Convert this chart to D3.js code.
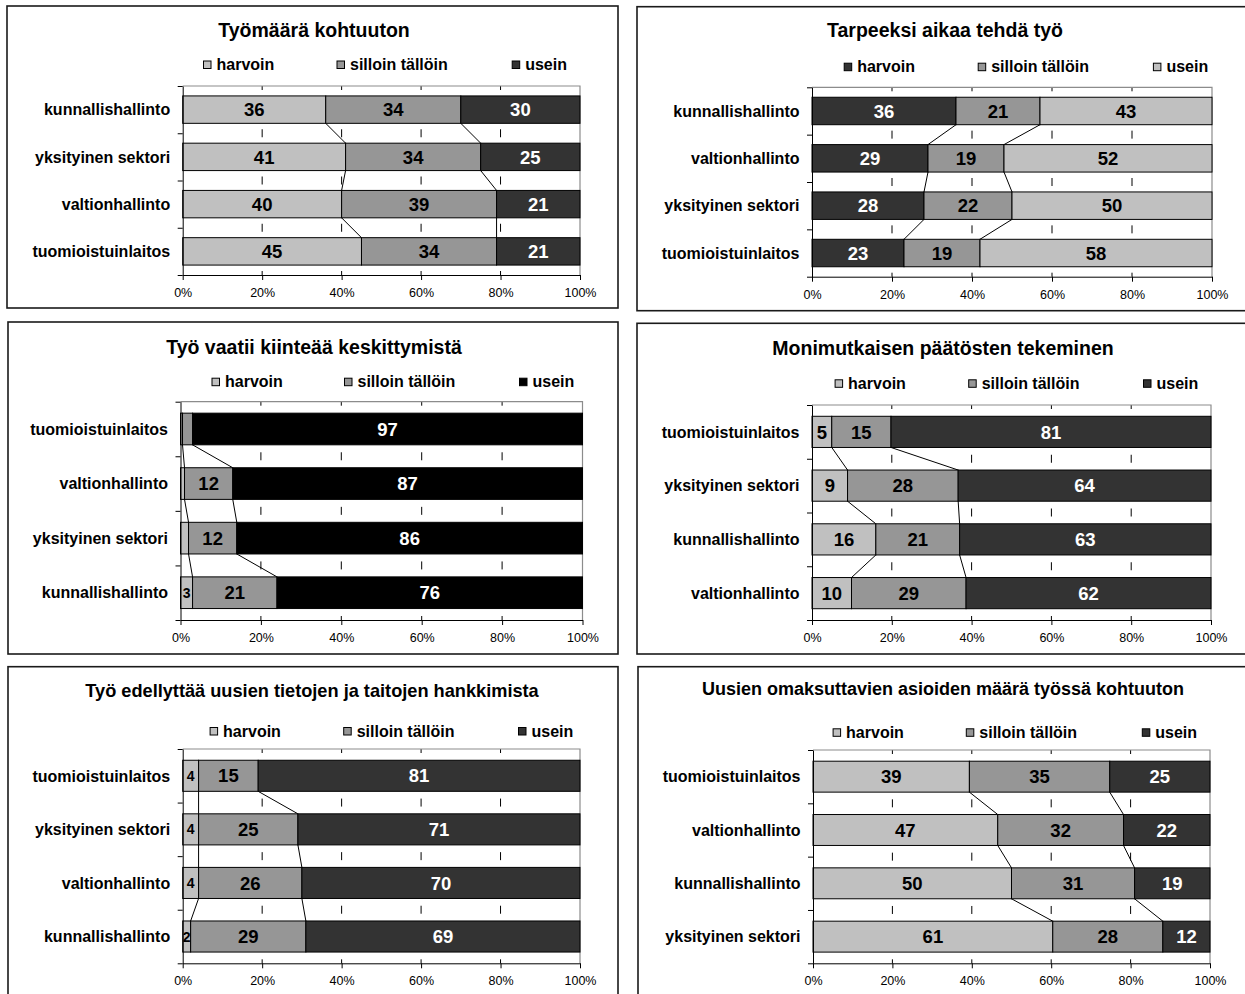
<!DOCTYPE html>
<html>
<head>
<meta charset="utf-8">
<script src="https://cdn.jsdelivr.net/npm/d3@7"></script>
<style>
  body { margin: 0; background: #fff; }
  svg { display: block; }
  text { font-family: "Liberation Sans", Arial, sans-serif; fill: #000; }
</style>
</head>
<body>
<svg id="chart" width="1245" height="994"></svg>
<script>
// ---- data ----
const seriesNames = ["harvoin", "silloin tällöin", "usein"];
const percentTicks = [0, 20, 40, 60, 80, 100];

const workloadTitle = "Työmäärä kohtuuton";
const workloadCats = ["kunnallishallinto", "yksityinen sektori", "valtionhallinto", "tuomioistuinlaitos"];
const workloadValues = [[36, 34, 30], [41, 34, 25], [40, 39, 21], [45, 34, 21]];

const timeTitle = "Tarpeeksi aikaa tehdä työ";
const timeCats = ["kunnallishallinto", "valtionhallinto", "yksityinen sektori", "tuomioistuinlaitos"];
const timeValues = [[36, 21, 43], [29, 19, 52], [28, 22, 50], [23, 19, 58]];

const focusTitle = "Työ vaatii kiinteää keskittymistä";
const focusCats = ["tuomioistuinlaitos", "valtionhallinto", "yksityinen sektori", "kunnallishallinto"];
const focusValues = [[0.5, 2.5, 97], [1, 12, 87], [2, 12, 86], [3, 21, 76]];
const focusUnlabeled = [[0, 0], [0, 1], [1, 0], [2, 0]]; // [row, series] without a value label

const decisionTitle = "Monimutkaisen päätösten tekeminen";
const decisionCats = ["tuomioistuinlaitos", "yksityinen sektori", "kunnallishallinto", "valtionhallinto"];
const decisionValues = [[5, 15, 81], [9, 28, 64], [16, 21, 63], [10, 29, 62]];

const learningTitle = "Työ edellyttää uusien tietojen ja taitojen hankkimista";
const learningCats = ["tuomioistuinlaitos", "yksityinen sektori", "valtionhallinto", "kunnallishallinto"];
const learningValues = [[4, 15, 81], [4, 25, 71], [4, 26, 70], [2, 29, 69]];

const newTasksTitle = "Uusien omaksuttavien asioiden määrä työssä kohtuuton";
const newTasksCats = ["tuomioistuinlaitos", "valtionhallinto", "kunnallishallinto", "yksityinen sektori"];
const newTasksValues = [[39, 35, 25], [47, 32, 22], [50, 31, 19], [61, 28, 12]];

// ---- styles ----
const LIGHT = "#c0c0c0", MID = "#969696", DARK = "#333333", BLACK = "#000000";

// ---- layout of the six panels ----
const panels = [
  { title: workloadTitle, cats: workloadCats, values: workloadValues, unlabeled: [],
    colors: [LIGHT, MID, DARK], frame: [7, 6, 611, 302], plot: [182.7, 86, 580, 275],
    titleX: 314, titleY: 30, titleSize: 19.5, legendY: 64.5, legendX: [203, 336.5, 511.7] },
  { title: timeTitle, cats: timeCats, values: timeValues, unlabeled: [],
    colors: [DARK, MID, LIGHT], frame: [637, 6.7, 620, 304], plot: [812, 87.3, 1212, 276.7],
    titleX: 945, titleY: 30, titleSize: 19.5, legendY: 66.7, legendX: [843.7, 977.7, 1152.9] },
  { title: focusTitle, cats: focusCats, values: focusValues, unlabeled: focusUnlabeled,
    colors: [LIGHT, MID, BLACK], frame: [8, 322, 610, 332], plot: [180.5, 401.7, 582.5, 620],
    titleX: 314, titleY: 346.7, titleSize: 19.5, legendY: 381.7, legendX: [211.5, 344, 519] },
  { title: decisionTitle, cats: decisionCats, values: decisionValues, unlabeled: [],
    colors: [LIGHT, MID, DARK], frame: [637, 323.3, 620, 330.7], plot: [812, 405, 1211, 620],
    titleX: 943, titleY: 348.3, titleSize: 19.5, legendY: 383.3, legendX: [834.6, 968.2, 1143] },
  { title: learningTitle, cats: learningCats, values: learningValues, unlabeled: [],
    colors: [LIGHT, MID, DARK], frame: [8, 666.7, 610, 340], plot: [182.7, 749, 580, 963.3],
    titleX: 312, titleY: 690, titleSize: 18.2, legendY: 731, legendX: [209.6, 343.2, 518] },
  { title: newTasksTitle, cats: newTasksCats, values: newTasksValues, unlabeled: [],
    colors: [LIGHT, MID, DARK], frame: [638, 666.7, 620, 340], plot: [813, 750, 1210, 963.3],
    titleX: 943, titleY: 688.3, titleSize: 18, legendY: 732.3, legendX: [832.6, 965.8, 1141.8] }
];

const svg = d3.select("#chart");

function drawPanel(p) {
  const g = svg.append("g");
  const [fx, fy, fw, fh] = p.frame;
  const [x0, y0, x1, y1] = p.plot;

  // frame
  g.append("rect").attr("x", fx).attr("y", fy).attr("width", fw).attr("height", fh)
    .attr("fill", "#fff").attr("stroke", "#1a1a1a").attr("stroke-width", 1.6);

  // title
  g.append("text").attr("x", p.titleX).attr("y", p.titleY).attr("dy", "0.36em")
    .attr("text-anchor", "middle").attr("font-weight", "bold").attr("font-size", p.titleSize)
    .text(p.title);

  // legend
  seriesNames.forEach((name, k) => {
    const lx = p.legendX[k];
    g.append("rect").attr("x", lx + 0.5).attr("y", p.legendY - 3.5).attr("width", 7.5).attr("height", 7.5)
      .attr("fill", p.colors[k]).attr("stroke", "#000").attr("stroke-width", 1);
    g.append("text").attr("x", lx + 13.5).attr("y", p.legendY).attr("dy", "0.36em")
      .attr("font-weight", "bold").attr("font-size", 16).text(name);
  });

  // scales
  const x = d3.scaleLinear().domain([0, 1]).range([x0, x1]);
  const y = d3.scaleBand().domain(p.cats).range([y0, y1]).paddingInner(0.42).paddingOuter(0.21);
  const yEdge = d3.scaleLinear().domain([0, p.cats.length]).range([y0, y1]);

  const stacked = d3.stack().keys(d3.range(seriesNames.length))
    .value((d, k) => d[k]).offset(d3.stackOffsetExpand)(p.values);

  // dashed gridlines: one dash centred in every gap between bars
  const dash = 8, period = y.step() / 2;
  g.append("g").selectAll("line").data(percentTicks.filter(t => t > 0 && t < 100)).join("line")
    .attr("x1", d => x(d / 100)).attr("x2", d => x(d / 100))
    .attr("y1", y0).attr("y2", y1)
    .attr("stroke", "#000").attr("stroke-width", 1)
    .attr("stroke-dasharray", `${dash},${period - dash}`)
    .attr("stroke-dashoffset", dash / 2);

  // plot area border (top and right)
  g.append("path").attr("d", `M${x0},${y0}H${x1}V${y1}`)
    .attr("fill", "none").attr("stroke", "#8c8c8c").attr("stroke-width", 1.2);

  // series lines between adjacent bars
  const seriesLines = [];
  for (let k = 0; k < seriesNames.length - 1; k++) {
    for (let i = 0; i < p.cats.length - 1; i++) {
      seriesLines.push({
        xa: x(stacked[k][i][1]), ya: y(p.cats[i]) + y.bandwidth(),
        xb: x(stacked[k][i + 1][1]), yb: y(p.cats[i + 1])
      });
    }
  }
  g.append("g").selectAll("line").data(seriesLines).join("line")
    .attr("x1", d => d.xa).attr("y1", d => d.ya).attr("x2", d => d.xb).attr("y2", d => d.yb)
    .attr("stroke", "#000").attr("stroke-width", 1);

  // bars
  stacked.forEach((layer, k) => {
    g.append("g").selectAll("rect").data(layer).join("rect")
      .attr("x", d => x(d[0])).attr("width", d => x(d[1]) - x(d[0]))
      .attr("y", (d, i) => y(p.cats[i])).attr("height", y.bandwidth())
      .attr("fill", p.colors[k]).attr("stroke", "#000").attr("stroke-width", 1);
  });

  // value labels
  const hidden = new Set(p.unlabeled.map(([r, k]) => r + "-" + k));
  stacked.forEach((layer, k) => {
    const light = p.colors[k] === DARK || p.colors[k] === BLACK;
    layer.forEach((d, i) => {
      if (hidden.has(i + "-" + k)) return;
      const w = x(d[1]) - x(d[0]);
      g.append("text")
        .attr("x", (x(d[0]) + x(d[1])) / 2)
        .attr("y", y(p.cats[i]) + y.bandwidth() / 2).attr("dy", "0.36em")
        .attr("text-anchor", "middle").attr("font-weight", "bold")
        .attr("font-size", w < 17 ? 14 : 18.5)
        .style("fill", light ? "#fff" : "#000")
        .text(p.values[i][k]);
    });
  });

  // category axis: ticks at band edges
  const yAxis = g.append("g").attr("transform", `translate(${x0},0)`)
    .call(d3.axisLeft(yEdge).tickValues(d3.range(p.cats.length + 1)).tickFormat("").tickSize(5).tickSizeOuter(0));
  yAxis.select(".domain").attr("stroke", "#000");

  // category labels
  g.append("g").selectAll("text").data(p.cats).join("text")
    .attr("x", x0 - 12.5).attr("y", d => y(d) + y.bandwidth() / 2).attr("dy", "0.36em")
    .attr("text-anchor", "end").attr("font-weight", "bold").attr("font-size", 16)
    .text(d => d);

  // percentage axis
  const xAxis = g.append("g").attr("transform", `translate(0,${y1})`)
    .call(d3.axisBottom(x).tickValues(percentTicks.map(t => t / 100))
      .tickFormat(d => Math.round(d * 100) + "%").tickSize(5).tickSizeOuter(0).tickPadding(8));
  xAxis.selectAll("text").attr("font-size", 12.5)
    .attr("font-family", '"Liberation Sans", Arial, sans-serif');
}

panels.forEach(drawPanel);
</script>
</body>
</html>
